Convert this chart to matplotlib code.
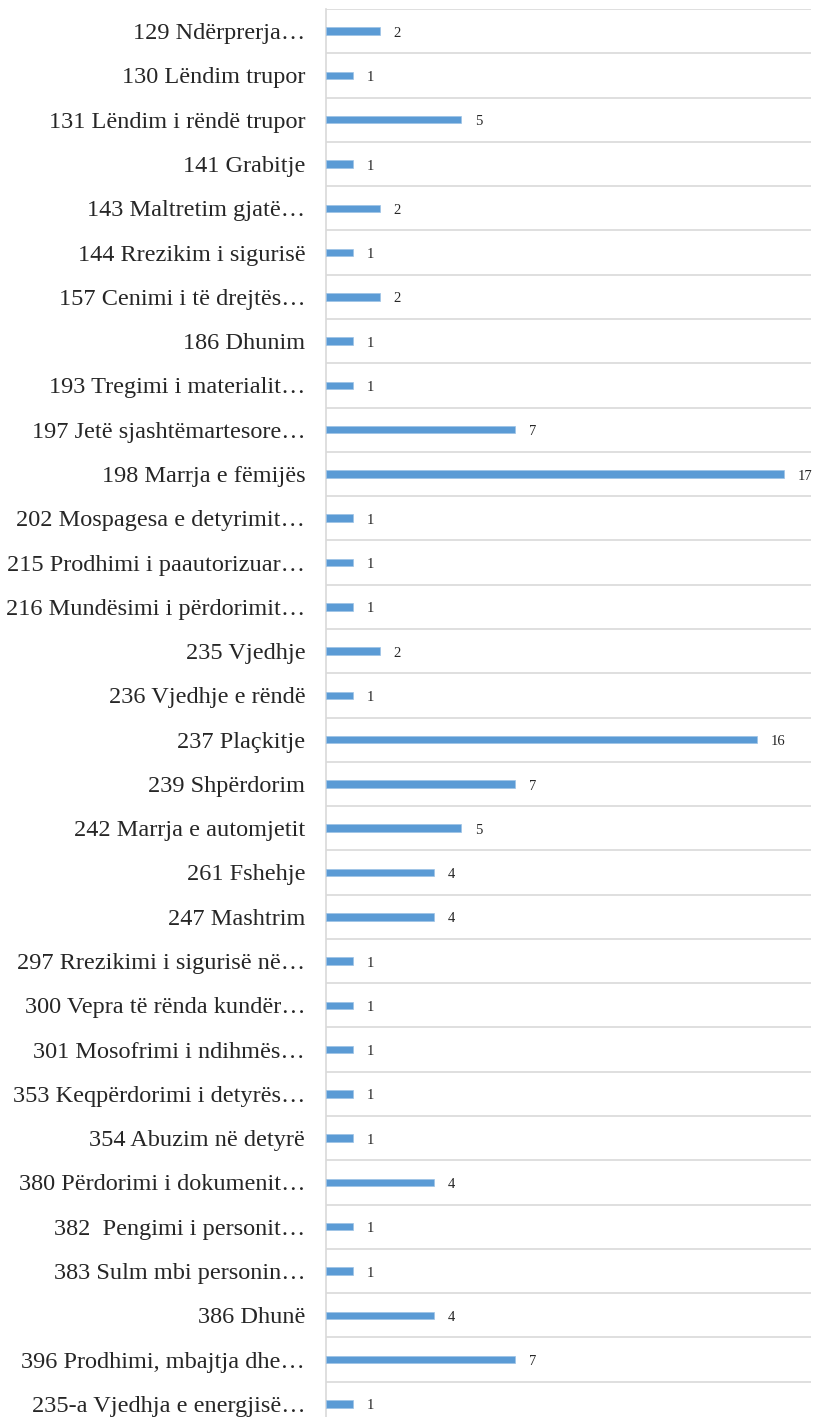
import matplotlib
matplotlib.use("Agg")
import matplotlib.pyplot as plt
import numpy as np

categories = [
    "129 Ndërprerja…", "130 Lëndim trupor", "131 Lëndim i rëndë trupor", "141 Grabitje",
    "143 Maltretim gjatë…", "144 Rrezikim i sigurisë", "157 Cenimi i të drejtës…", "186 Dhunim",
    "193 Tregimi i materialit…", "197 Jetë sjashtëmartesore…", "198 Marrja e fëmijës",
    "202 Mospagesa e detyrimit…", "215 Prodhimi i paautorizuar…", "216 Mundësimi i përdorimit…",
    "235 Vjedhje", "236 Vjedhje e rëndë", "237 Plaçkitje", "239 Shpërdorim",
    "242 Marrja e automjetit", "261 Fshehje", "247 Mashtrim", "297 Rrezikimi i sigurisë në…",
    "300 Vepra të rënda kundër…", "301 Mosofrimi i ndihmës…", "353 Keqpërdorimi i detyrës…",
    "354 Abuzim në detyrë", "380 Përdorimi i dokumenit…", "382  Pengimi i personit…",
    "383 Sulm mbi personin…", "386 Dhunë", "396 Prodhimi, mbajtja dhe…",
    "235-a Vjedhja e energjisë…",
]
values = [2, 1, 5, 1, 2, 1, 2, 1, 1, 7, 17, 1, 1, 1, 2, 1, 16, 7, 5, 4, 4, 1, 1, 1, 1, 1, 4, 1, 1, 4, 7, 1]

plt.rcParams['font.family'] = ['Liberation Serif', 'DejaVu Serif']

W, H = 817, 1417
fig = plt.figure(figsize=(W / 100, H / 100), dpi=100)
left = 326 / W
right = 811 / W
top = 1 - 9 / H
bottom = -9 / H
ax = fig.add_axes([left, bottom, right - left, top - bottom])

y = np.arange(len(categories))
bars = ax.barh(y, values, height=0.17, color="#5B9BD5", edgecolor="#9DC3E6", linewidth=0.5, zorder=3)
for b, v in zip(bars, values):
    ax.annotate(str(v), xy=(b.get_width(), b.get_y() + b.get_height() / 2),
                xytext=(10, -1.5), textcoords="offset points",
                ha="left", va="center", fontsize=10.5, color="#262626")

ax.set_xlim(0, 18)
ax.set_ylim(len(categories) - 0.5, -0.5)
ax.set_yticks(y)
ax.set_yticklabels(categories, fontsize=17.5, color="#262626")
ax.set_yticks(np.arange(-0.5, len(categories), 1), minor=True)
ax.tick_params(axis='y', which='both', length=0, pad=15)
ax.tick_params(axis='x', which='both', length=0, labelbottom=False)
ax.grid(which='minor', axis='y', color="#D9D9D9", linewidth=1.2)
ax.grid(which='major', axis='y', visible=False)
for s in ["top", "right", "bottom"]:
    ax.spines[s].set_visible(False)
ax.spines["left"].set_color("#D9D9D9")
ax.spines["left"].set_linewidth(1.2)

fig.savefig("out.png", dpi=100)
